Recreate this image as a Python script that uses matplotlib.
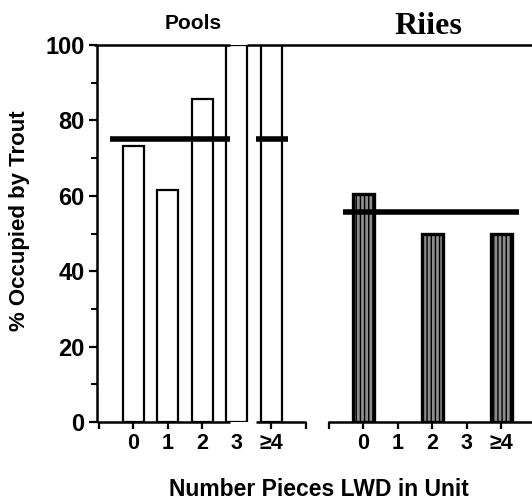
import matplotlib
matplotlib.use("Agg")
from matplotlib import pyplot as plt
import matplotlib.transforms as mtransforms

# data
categories = ["0", "1", "2", "3", "\u22654"]
pool_values = [73.3, 61.6, 85.7, 100, 100]
riffle_values = [60.6, 0, 50, 0, 50]
pool_mean = 75
riffle_mean = 55.6

# layout (x in category units, one unit per class)
riffle_offset = 6.67
bar_width = 0.62
x_left, x_right = -1.05, 11.56

plt.rcParams["font.family"] = ["Liberation Sans", "DejaVu Sans"]
plt.rcParams["font.weight"] = "bold"

fig = plt.figure(figsize=(5.32, 5.04), dpi=100)
ax = fig.add_axes([97 / 532, 82 / 504, 435 / 532, 377 / 504])

pool_x = [i for i in range(len(categories))]
riffle_x = [i + riffle_offset for i in range(len(categories))]

# pools: open bars
ax.bar(pool_x, pool_values, width=bar_width, facecolor="white",
       edgecolor="black", linewidth=1.6, zorder=3)

# riffles: stippled dark bars (skip the empty classes)
rx = [x for x, v in zip(riffle_x, riffle_values) if v > 0]
rv = [v for v in riffle_values if v > 0]
ax.bar(rx, rv, width=bar_width, facecolor="#8c8c8c",
       edgecolor="black", linewidth=2.4, hatch="||||", zorder=3)

# mean lines (the pools one is broken around the axis break)
ax.hlines(pool_mean, -0.67, 2.8, color="black", linewidth=4, zorder=4)
ax.hlines(pool_mean, 3.55, 4.5, color="black", linewidth=4, zorder=4)
ax.hlines(riffle_mean, riffle_offset - 0.58, riffle_offset + 4.52,
          color="black", linewidth=4, zorder=4)

# frame drawn by hand (broken axes)
for s in ax.spines.values():
    s.set_visible(False)
ax.vlines(x_left, 0, 100, color="black", linewidth=1.8, zorder=5, clip_on=False)
ax.hlines(100, x_left - 0.1, 2.8, color="black", linewidth=1.8, zorder=5, clip_on=False)
ax.hlines(100, 3.3, x_right, color="black", linewidth=1.8, zorder=5, clip_on=False)
ax.hlines(0, x_left, 2.8, color="black", linewidth=1.8, zorder=5, clip_on=False)
ax.hlines(0, 3.55, 5.0, color="black", linewidth=1.8, zorder=5, clip_on=False)
ax.hlines(0, riffle_offset - 1.03, x_right, color="black", linewidth=1.8,
          zorder=5, clip_on=False)

# x tick marks: class boundaries -1..5 on each panel
tick_pos = [t for t in range(-1, 6) if t != 3] + [t + riffle_offset for t in range(-1, 6)]
ax.vlines(tick_pos, -1.9, 0, color="black", linewidth=1.6, clip_on=False)

ax.set_xlim(x_left, x_right)
ax.set_ylim(0, 100)
ax.set_xticks(pool_x + riffle_x)
ax.set_xticklabels(categories + categories, fontsize=15.5, fontweight="bold")
ax.tick_params(axis="x", length=0, pad=8)

ax.set_yticks(range(0, 101, 20))
ax.set_yticks(range(10, 100, 20), minor=True)
ax.tick_params(axis="y", which="major", length=6, width=1.6, labelsize=17, pad=3)
ax.tick_params(axis="y", which="minor", length=4, width=1.4)
ax.set_ylabel("% Occupied by Trout", fontsize=16, fontweight="bold")
ax.yaxis.set_label_coords(-0.155, 0.535)

trans = mtransforms.blended_transform_factory(ax.transData, ax.transAxes)
ax.text(1.74, 1.058, "Pools", transform=trans, ha="center", va="center",
        fontsize=15, fontweight="bold")
ax.text(riffle_offset + 1.88, 1.05, "Riies", transform=trans, ha="center",
        va="center", fontsize=23, fontweight="bold", family="Liberation Serif")

fig.text(319 / 532, 0.028, "Number Pieces LWD in Unit", ha="center",
         va="center", fontsize=16.5, fontweight="bold")

fig.savefig("out.png", dpi=100)
